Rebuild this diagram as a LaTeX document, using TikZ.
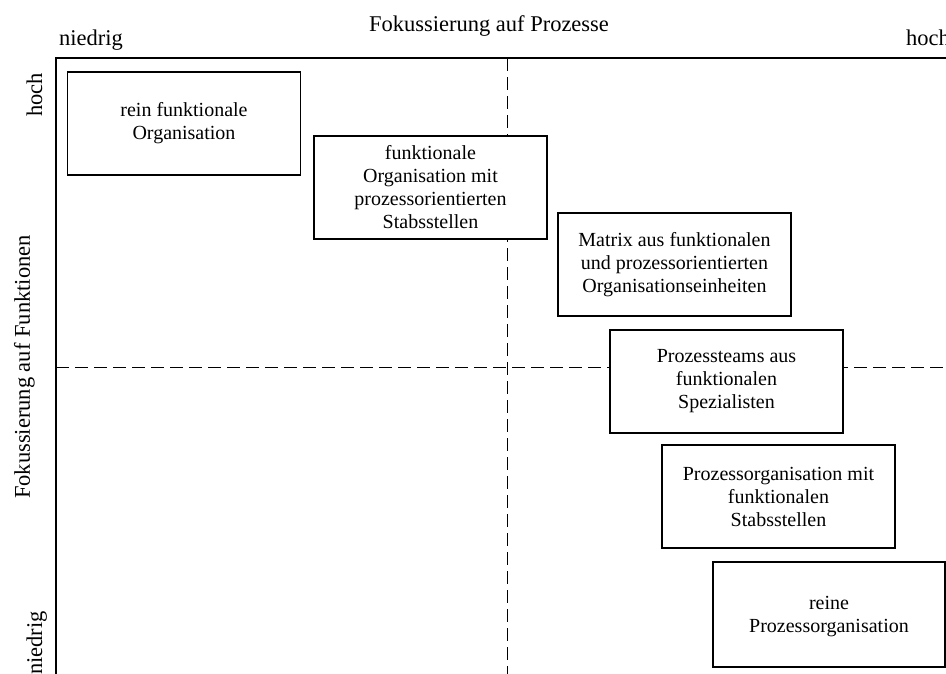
\documentclass[tikz,border=0pt]{standalone}
\usepackage{fontspec}
\setmainfont{Liberation Serif}
\begin{document}
\begin{tikzpicture}[x=1pt,y=-1pt,
  orgbox/.style={draw, fill=white, line width=1.2pt, minimum width=233pt,
    minimum height=103pt, align=center, inner sep=0pt,
    font=\fontsize{20}{23}\selectfont},
  axislabel/.style={font=\fontsize{22.5}{26}\selectfont, inner sep=0pt},
  frameline/.style={line width=1.3pt},
  divider/.style={line width=1.5pt, dash pattern=on 13pt off 6pt}]

  \path[use as bounding box, clip] (0,0) rectangle (946,673);

  % frame corner and end points of the quadrant dividers
  \coordinate (corner) at (56,58);
  \coordinate (topend) at (950,58);
  \coordinate (leftend) at (56,680);
  \coordinate (vtop) at (507.5,58);
  \coordinate (vbot) at (507.5,680);
  \coordinate (hleft) at (56,367.5);
  \coordinate (hright) at (950,367.5);

  % quadrant dividers
  \draw[divider] (vtop) -- (vbot);
  \draw[divider] (hleft) -- (hright);

  % axes
  \draw[frameline] (leftend) -- (corner) -- (topend);

  % axis labels
  \node[axislabel, anchor=base] (xtitle) at (489,31) {Fokussierung auf Prozesse};
  \node[axislabel, anchor=base west] (xlow) at (59,45) {niedrig};
  \node[axislabel, anchor=base west] (xhigh) at (906,45) {hoch};
  \node[axislabel, anchor=base, rotate=90] (ytitle) at (30,367) {Fokussierung auf Funktionen};
  \node[axislabel, anchor=base west, rotate=90] (yhigh) at (42,117) {hoch};
  \node[axislabel, anchor=base west, rotate=90] (ylow) at (42,675) {niedrig};

  % organisation forms
  \node[orgbox] (rf) at (184,123.5) {rein funktionale\\Organisation};
  \node[orgbox] (fs) at (430.5,187.5) {funktionale\\Organisation mit\\prozessorientierten\\Stabsstellen};
  \node[orgbox] (mx) at (674.5,264.5) {Matrix aus funktionalen\\und prozessorientierten\\Organisationseinheiten};
  \node[orgbox] (pt) at (726.5,381.5) {Prozessteams aus\\funktionalen\\Spezialisten};
  \node[orgbox] (ps) at (778.5,496.5) {Prozessorganisation mit\\funktionalen\\Stabsstellen};
  \node[orgbox, minimum width=232pt, minimum height=105pt, text depth=0pt] (rp) at (829,614.5) {\\[-10pt]reine\\Prozessorganisation};
\end{tikzpicture}
\end{document}
